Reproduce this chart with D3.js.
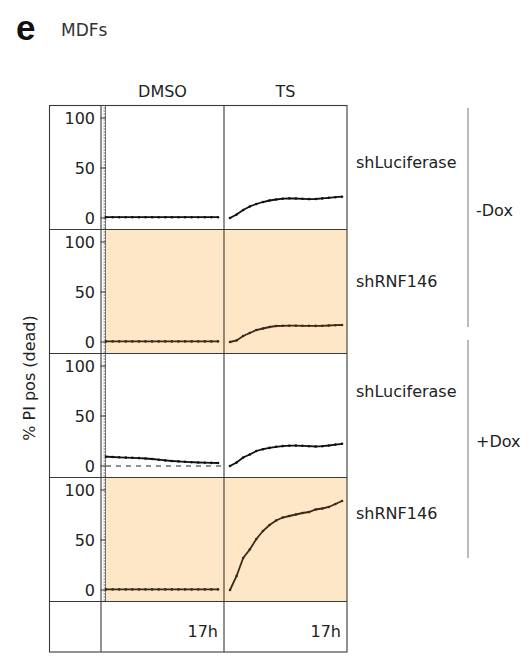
<!DOCTYPE html>
<html><head><meta charset="utf-8">
<script src="https://cdn.jsdelivr.net/npm/d3@7"></script>
<style>body{margin:0;background:#fff}svg{display:block}text{font-family:"DejaVu Sans",sans-serif;fill:#222}</style>
</head><body><svg id="c" width="530" height="657"></svg>
<script>
// ---- data ----
const hours = d3.range(0, 18); // 0..17 h
const columns = ["DMSO", "TS"];
const rowLabels = ["shLuciferase", "shRNF146", "shLuciferase", "shRNF146"];
const doxGroups = ["-Dox", "+Dox"];
const shaded = [false, true, false, true];
const yTicks = [0, 50, 100];
const timeLabel = "17h";

const dmso_minusDox_shLuc = [0.8,0.8,0.8,0.8,0.8,0.8,0.8,0.8,0.8,0.8,0.8,0.8,0.8,0.8,0.8,0.8,0.8,0.8];
const ts_minusDox_shLuc   = [0,3.5,8,11.5,14,16,17.5,18.5,19.3,19.7,19.5,19.2,18.9,19,19.6,20.2,20.8,21.3];
const dmso_minusDox_shRNF = [0.6,0.6,0.6,0.6,0.6,0.6,0.6,0.6,0.6,0.6,0.6,0.6,0.6,0.6,0.6,0.6,0.6,0.6];
const ts_minusDox_shRNF   = [0,1.5,6,9,12,13.5,15,16,16.2,16.3,16.3,16.2,16.2,16.1,16.2,16.5,16.8,17];
const dmso_plusDox_shLuc  = [9.3,9,8.7,8.4,8.2,7.9,7.5,7,6.3,5.6,5,4.6,4.2,3.8,3.5,3.3,3.1,3];
const ts_plusDox_shLuc    = [0,3.5,8.5,11.5,15,16.8,18.1,19.2,19.9,20.3,20.4,20.2,19.8,19.5,19.8,20.5,21.4,22.2];
const dmso_plusDox_shRNF  = [0.6,0.6,0.6,0.6,0.6,0.6,0.6,0.6,0.6,0.6,0.6,0.6,0.6,0.6,0.6,0.6,0.6,0.6];
const ts_plusDox_shRNF    = [0,14,32,40.5,51,59,65,69.5,72.5,74,75.5,77,78,80.5,81.5,83,86,89];

const series = [
  [dmso_minusDox_shLuc, ts_minusDox_shLuc],
  [dmso_minusDox_shRNF, ts_minusDox_shRNF],
  [dmso_plusDox_shLuc, ts_plusDox_shLuc],
  [dmso_plusDox_shRNF, ts_plusDox_shRNF]
];

// ---- layout ----
const svg = d3.select("#c");
const tableL = 49.5, axisX = 101, colX = [101, 224, 347];
const top0 = 105.5, rowH = 124, bottomRowH = 50.5;
const rowTop = i => top0 + i * rowH;
const tableB = rowTop(4) + bottomRowH;
const border = "#3a3a3a";
const fillShade = "#fde7c6";

// title
svg.append("text").attr("x", 16).attr("y", 40).style("font-family", "'Liberation Sans',Arial,sans-serif")
  .style("font-weight", "bold").style("font-size", "35px").style("fill", "#111").text("e");
svg.append("text").attr("x", 61).attr("y", 36).style("font-size", "17px").style("fill", "#333").text("MDFs");

// column headers
columns.forEach((c, j) => {
  svg.append("text").attr("x", (colX[j] + colX[j + 1]) / 2).attr("y", 97)
    .attr("text-anchor", "middle").style("font-size", "16px").text(c);
});

// shaded backgrounds
shaded.forEach((s, i) => {
  if (s) svg.append("rect").attr("x", 106).attr("y", rowTop(i)).attr("width", colX[2] - 106)
    .attr("height", rowH).attr("fill", fillShade);
});

const xScales = [
  d3.scaleLinear().domain([0, 17]).range([106, 218]),
  d3.scaleLinear().domain([0, 17]).range([230, 342])
];

series.forEach((pair, i) => {
  const y = d3.scaleLinear().domain([-11.5, 112.5]).range([rowTop(i) + rowH, rowTop(i)]);
  const g = svg.append("g");
  // minor axis ticks (dotted axis)
  const ax = 105.5;
  g.append("line").attr("x1", ax).attr("x2", ax).attr("y1", rowTop(i)).attr("y2", rowTop(i) + rowH)
    .attr("stroke", "#555").attr("stroke-width", 0.8);
  g.selectAll("line.minor").data(d3.range(-10, 113, 3)).join("line")
    .attr("x1", ax - 2).attr("x2", ax).attr("y1", d => y(d)).attr("y2", d => y(d))
    .attr("stroke", "#444").attr("stroke-width", 0.8);
  g.selectAll("line.major").data(yTicks).join("line")
    .attr("x1", ax - 5).attr("x2", ax).attr("y1", d => y(d)).attr("y2", d => y(d))
    .attr("stroke", "#333").attr("stroke-width", 1);
  g.selectAll("text.tick").data(yTicks).join("text")
    .attr("x", 95).attr("y", d => y(d)).attr("dy", "0.36em").attr("text-anchor", "end")
    .style("font-size", "16px").text(d => d);
  // dashed zero baseline in +Dox shLuciferase DMSO
  if (i === 2) {
    g.append("line").attr("x1", 106).attr("x2", 222).attr("y1", y(0)).attr("y2", y(0))
      .attr("stroke", "#222").attr("stroke-width", 1).attr("stroke-dasharray", "5,5");
  }
  const col = shaded[i] ? "#3b2a18" : "#111";
  pair.forEach((vals, j) => {
    const line = d3.line().x((d, k) => xScales[j](hours[k])).y(d => y(d));
    g.append("path").attr("d", line(vals)).attr("fill", "none").attr("stroke", col).attr("stroke-width", 1.8);
    g.selectAll(null).data(vals).join("circle")
      .attr("cx", (d, k) => xScales[j](hours[k])).attr("cy", d => y(d)).attr("r", 1.3).attr("fill", col);
  });
  // row label
  const labelY = [62.5, 57, 43.5, 41][i];
  svg.append("text").attr("x", 356).attr("y", rowTop(i) + labelY).style("font-size", "16px").text(rowLabels[i]);
});

// table grid
const grid = svg.append("g").attr("stroke", border).attr("stroke-width", 1.1).attr("fill", "none");
grid.append("rect").attr("x", tableL).attr("y", top0).attr("width", colX[2] - tableL).attr("height", tableB - top0);
d3.range(1, 5).forEach(i => grid.append("line").attr("x1", tableL).attr("x2", colX[2]).attr("y1", rowTop(i)).attr("y2", rowTop(i)));
colX.slice(0, 2).forEach(x => grid.append("line").attr("x1", x).attr("x2", x).attr("y1", top0).attr("y2", tableB));

// bottom time labels
[0, 1].forEach(j => {
  svg.append("text").attr("x", colX[j + 1] - 6).attr("y", 637).attr("text-anchor", "end")
    .style("font-size", "16px").text(timeLabel);
});

// y-axis title
svg.append("text").attr("transform", "translate(35,378) rotate(-90)").attr("text-anchor", "middle")
  .style("font-size", "16px").text("% PI pos (dead)");

// Dox brackets
const brackets = [[108, 327], [340, 558]];
doxGroups.forEach((lab, k) => {
  svg.append("line").attr("x1", 468).attr("x2", 468).attr("y1", brackets[k][0]).attr("y2", brackets[k][1])
    .attr("stroke", "#777").attr("stroke-width", 1);
  svg.append("text").attr("x", 476).attr("y", [216, 447][k]).style("font-size", "16px").text(lab);
});
</script></body></html>
